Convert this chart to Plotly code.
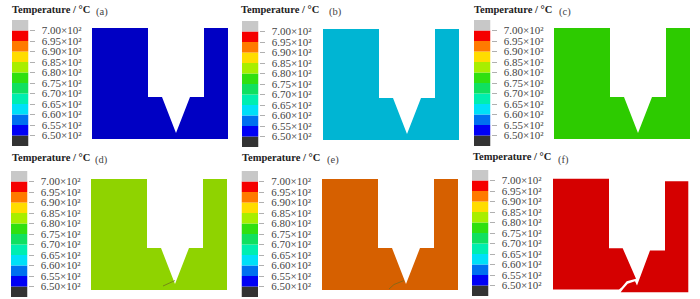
import plotly.graph_objects as go

W, H = 700, 299
TITLE = "Temperature / °C"
PANEL_LABELS = ["(a)", "(b)", "(c)", "(d)", "(e)", "(f)"]
TEMPERATURE_TICKS = [650, 655, 660, 665, 670, 675, 680, 685, 690, 695, 700]
TICK_LABELS = ["6.50×10²", "6.55×10²", "6.60×10²", "6.65×10²", "6.70×10²", "6.75×10²",
               "6.80×10²", "6.85×10²", "6.90×10²", "6.95×10²", "7.00×10²"]
BAND_LOWS = [645, 650, 655, 660, 665, 670, 675, 680, 685, 690, 695, 700]
BAND_HEIGHT = [5] * 12
BAND_COLORS = ["#333333", "#0000f5", "#0070f0", "#00e0f8", "#00eeb0", "#10e060",
               "#30e010", "#a8ee00", "#ffdc00", "#ff7a00", "#f50000", "#c8c8c8"]
SPECIMEN_COLORS = ["#0000c4", "#00b5d3", "#2dcb00", "#8fd300", "#d66000", "#d50000"]

NOTCHED_X = [0, 56, 56, 70, 84, 98, 112, 112, 136, 136, 0, 0]
NOTCHED_Y = [111, 111, 42, 42, 6, 42, 42, 111, 111, 0, 0, 111]
BROKEN_LEFT_X = [0, 56, 56, 69.7, 83, 73.7, 68.7, 66, 0, 0]
BROKEN_LEFT_Y = [110.7, 110.7, 41.3, 41.3, 10.7, 8.3, 2.3, 0, 0, 110.7]
BROKEN_RIGHT_X = [112, 135.3, 135.3, 67.7, 70.3, 74.7, 82, 84, 97, 112, 112]
BROKEN_RIGHT_Y = [108.3, 108.3, -2.7, -2.7, 0.7, 5.7, 8.3, 4, 39, 39, 108.3]
CRACK_D_X = [72, 77, 84]
CRACK_D_Y = [4, 6.5, 9.5]
CRACK_E_X = [67, 72, 82]
CRACK_E_Y = [1, 5.5, 9.5]

# panel anchors in the page
SPEC_LEFT = [92, 323, 554, 91, 322, 553]
SPEC_TOP = [28, 29, 28, 179, 179, 178.5]
BAR_LEFT = [12, 242, 474, 11, 241.5, 472]
BAR_TOP = [20, 21, 20, 171, 171, 170]
TITLE_LEFT = [11, 240, 473, 11, 241, 472]
TITLE_MID = [10, 10, 10, 157, 157, 156]
LABEL_LEFT = [94, 327, 557, 93, 325, 556]
LABEL_MID = [12, 12, 12, 160, 160, 160]

BAR_W, BAR_H = 16.5, 126
PAD = 4
fig = go.Figure()
annotations = []
layout_axes = {}

for i in range(6):
    bx, by, sx, sy = f"x{2*i+1}", f"y{2*i+1}", f"x{2*i+2}", f"y{2*i+2}"
    # colour key
    fig.add_trace(go.Bar(x=[0] * 12, y=BAND_HEIGHT, base=BAND_LOWS, marker_color=BAND_COLORS,
                         marker_line_width=0, width=1, xaxis=bx, yaxis=by, showlegend=False))
    layout_axes[f"xaxis{2*i+1}"] = dict(domain=[BAR_LEFT[i] / W, (BAR_LEFT[i] + BAR_W) / W], range=[-0.5, 0.5],
                                        visible=False, anchor=by)
    layout_axes[f"yaxis{2*i+1}"] = dict(domain=[1 - (BAR_TOP[i] + BAR_H) / H, 1 - BAR_TOP[i] / H], range=[645, 705],
                                        side="right", anchor=bx, tickvals=TEMPERATURE_TICKS, ticktext=TICK_LABELS,
                                        ticks="outside", ticklen=5, tickwidth=1, tickcolor="#b0b0b0",
                                        showgrid=False, zeroline=False, showline=False,
                                        tickfont=dict(family="Liberation Serif", size=11, color="#444444"),
                                        ticklabelstandoff=5)
    # specimen
    if i == 5:
        polys = [(BROKEN_LEFT_X, BROKEN_LEFT_Y), (BROKEN_RIGHT_X, BROKEN_RIGHT_Y)]
    else:
        polys = [(NOTCHED_X, NOTCHED_Y)]
    for px, py in polys:
        fig.add_trace(go.Scatter(x=px, y=py, mode="lines", fill="toself", fillcolor=SPECIMEN_COLORS[i],
                                 line=dict(width=0, color=SPECIMEN_COLORS[i]), xaxis=sx, yaxis=sy,
                                 showlegend=False, hoverinfo="skip"))
    if i in (3, 4):
        cx, cy = (CRACK_D_X, CRACK_D_Y) if i == 3 else (CRACK_E_X, CRACK_E_Y)
        fig.add_trace(go.Scatter(x=cx, y=cy, mode="lines", line=dict(width=0.7, color="#6a6a20"),
                                 xaxis=sx, yaxis=sy, showlegend=False, hoverinfo="skip"))
    layout_axes[f"xaxis{2*i+2}"] = dict(domain=[(SPEC_LEFT[i] - PAD) / W, (SPEC_LEFT[i] + 136 + PAD) / W],
                                        range=[-PAD, 136 + PAD], visible=False, anchor=sy)
    layout_axes[f"yaxis{2*i+2}"] = dict(domain=[1 - (SPEC_TOP[i] + 111 + PAD) / H, 1 - (SPEC_TOP[i] - PAD) / H],
                                        range=[-PAD, 111 + PAD], visible=False, anchor=sx)
    annotations.append(dict(x=TITLE_LEFT[i] / W, y=1 - TITLE_MID[i] / H, xref="paper", yref="paper", text=f"<b>{TITLE}</b>",
                            showarrow=False, xanchor="left", yanchor="middle", xshift=-1,
                            font=dict(family="Liberation Serif", size=10.5, color="#222222")))
    annotations.append(dict(x=LABEL_LEFT[i] / W, y=1 - LABEL_MID[i] / H, xref="paper", yref="paper", text=PANEL_LABELS[i],
                            showarrow=False, xanchor="left", yanchor="middle",
                            font=dict(family="Liberation Serif", size=10.5, color="#444444")))

fig.update_layout(width=W, height=H, margin=dict(l=0, r=0, t=0, b=0), autosize=False,
                  paper_bgcolor="white", plot_bgcolor="white", barmode="overlay",
                  annotations=annotations, **layout_axes)
fig.write_html("out.html", config={"displayModeBar": False},
               post_script="document.body.style.margin='0';document.body.style.overflow='hidden';")
